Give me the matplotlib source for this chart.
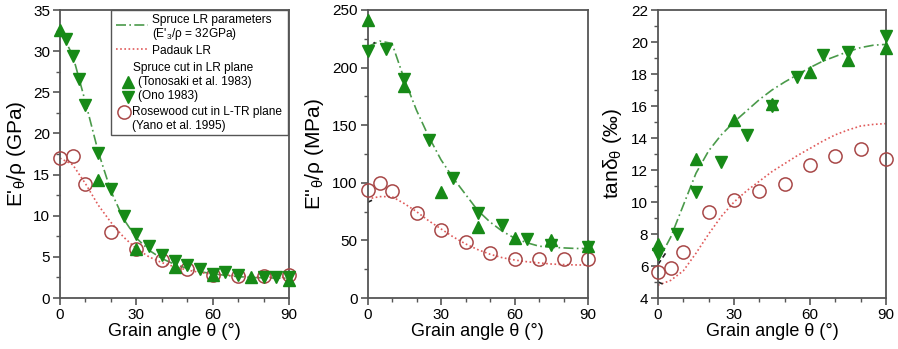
import matplotlib
matplotlib.use("Agg")
import matplotlib.pyplot as plt
from matplotlib.lines import Line2D
from matplotlib.patches import Rectangle
from matplotlib.ticker import MultipleLocator

plt.rcParams['font.family'] = ['Liberation Sans', 'DejaVu Sans']
plt.rcParams['mathtext.fontset'] = 'custom'
plt.rcParams['mathtext.rm'] = 'Liberation Sans'
plt.rcParams['mathtext.it'] = 'Liberation Sans:italic'

# ---- data ----
curve_angle = [0, 5, 10, 15, 20, 25, 30, 35, 40, 45, 50, 55, 60, 65, 70, 75, 80, 85, 90]

# storage modulus E'/rho (GPa)
e1_spruce_curve = [32.5, 29.5, 23.8, 17.8, 13.0, 9.6, 7.3, 5.8, 4.8, 4.1, 3.6, 3.2, 2.95, 2.75, 2.6, 2.5, 2.45, 2.42, 2.4]
e1_padauk_curve = [17.0, 16.2, 13.9, 11.3, 9.2, 7.4, 6.0, 5.0, 4.3, 3.8, 3.4, 3.1, 2.9, 2.8, 2.7, 2.6, 2.55, 2.5, 2.5]

# loss modulus E''/rho (MPa)
e2_spruce_curve = [218, 223, 221, 190, 163, 140, 120, 104, 90, 76, 66, 58, 52, 48, 45, 44, 43.5, 43, 43]
e2_padauk_curve = [86, 88, 88, 82, 75, 67, 60, 53, 47, 42, 38, 35, 33, 31.5, 30.5, 29.5, 29, 28.7, 28.6]

# loss factor tan delta (permil)
td_spruce_curve = [6.3, 7.8, 9.8, 11.8, 13.2, 14.2, 15.0, 15.7, 16.4, 17.0, 17.5, 17.95, 18.4, 18.8, 19.1, 19.4, 19.65, 19.8, 19.85]
td_padauk_curve = [4.8, 5.1, 5.7, 6.8, 8.0, 9.1, 10.0, 10.7, 11.3, 11.9, 12.4, 12.9, 13.35, 13.8, 14.2, 14.5, 14.75, 14.85, 14.9]

# short black dashed pieces near 0 deg
black_angle = [0, 3]
e2_black_spruce = [216, 222]
e2_black_padauk = [83, 86]
td_black_spruce = [6.1, 6.8]
td_black_padauk = [5.0, 4.8]

# Tonosaki et al. 1983 (spruce, up triangles)
tono_angle = [0, 15, 30, 45, 60, 75, 90]
tono_e1 = [32.6, 14.4, 5.9, 3.8, 2.8, 2.6, 2.2]
tono_e2 = [241, 184, 92, 62, 52, 50, 45]
tono_td = [7.35, 12.7, 15.1, 16.1, 18.1, 18.9, 19.6]

# Ono 1983 (spruce, down triangles)
ono_e1_angle = [2.5, 5, 7.5, 10, 15, 20, 25, 30, 35, 40, 45, 50, 55, 60, 65, 70, 80, 85, 90]
ono_e1 = [31.5, 29.4, 26.6, 23.4, 17.6, 13.2, 10.0, 7.8, 6.3, 5.2, 4.5, 4.0, 3.5, 2.9, 3.1, 2.8, 2.6, 2.5, 2.6]
ono_angle = [0, 7.5, 15, 25, 35, 45, 55, 65, 75, 90]
ono_e2 = [214, 216, 190, 137, 104, 74, 63, 51, 46, 44]
ono_td = [6.75, 8.0, 10.65, 12.5, 14.2, 16.0, 17.8, 19.2, 19.4, 20.4]

# Yano et al. 1995 (rosewood, circles)
yano_angle = [0, 5, 10, 20, 30, 40, 50, 60, 70, 80, 90]
yano_e1 = [17.0, 17.2, 13.8, 8.0, 6.0, 4.6, 3.5, 2.8, 2.7, 2.7, 2.8]
yano_e2 = [94, 100, 93, 74, 59, 49, 39, 34, 34, 34, 34]
yano_td = [5.6, 5.9, 6.9, 9.4, 10.1, 10.7, 11.1, 12.3, 12.9, 13.3, 12.7]

# ---- styles ----
GREEN = '#178a17'
GREEN_LINE = '#4a9a4a'
RED_LINE = '#e05a5a'
CIRCLE = '#a84848'
SPINE = '#555555'

W, H = 898, 349
fig = plt.figure(figsize=(W / 100, H / 100), dpi=100)


def px_axes(left, right, top=10, bottom=298):
    return fig.add_axes([left / W, 1 - bottom / H, (right - left) / W, (bottom - top) / H])


def style(ax, ylim, ymajor, yminor, ylabel, label_x):
    ax.set_xlim(0, 90)
    ax.set_ylim(*ylim)
    ax.xaxis.set_major_locator(MultipleLocator(30))
    ax.xaxis.set_minor_locator(MultipleLocator(10))
    ax.yaxis.set_major_locator(MultipleLocator(ymajor))
    ax.yaxis.set_minor_locator(MultipleLocator(yminor))
    for s in ax.spines.values():
        s.set_color(SPINE)
        s.set_linewidth(1.3)
    ax.tick_params(which='both', direction='out', color=SPINE, labelsize=11,
                   top=False, right=False)
    ax.tick_params(which='major', length=5, width=1.2, pad=2)
    ax.tick_params(which='minor', length=3, width=1.0)
    ax.set_xlabel('Grain angle θ (°)', fontsize=13, labelpad=1)
    ax.set_ylabel(ylabel, fontsize=15)
    ax.yaxis.set_label_coords(label_x, 0.5)


def draw(ax, sp_curve, pd_curve, tono, ono_x, ono, yano):
    ax.plot(curve_angle, sp_curve, color=GREEN_LINE, lw=1.2, ls=(0, (6, 2, 1, 2)), zorder=2)
    ax.plot(curve_angle, pd_curve, color=RED_LINE, lw=1.2, ls=(0, (1, 1.5)), zorder=2)
    ax.plot(yano_angle, yano, 'o', ms=9.5, mfc='none', mec=CIRCLE, mew=1.1, clip_on=False, zorder=3)
    ax.plot(tono_angle, tono, '^', ms=8.5, color=GREEN, clip_on=False, zorder=4)
    ax.plot(ono_x, ono, 'v', ms=8.5, color=GREEN, clip_on=False, zorder=4)


ax1 = px_axes(60, 289)
draw(ax1, e1_spruce_curve, e1_padauk_curve, tono_e1, ono_e1_angle, ono_e1, yano_e1)
style(ax1, (0, 35), 5, 2.5, "E'$_{\\mathrm{θ}}$/ρ (GPa)", -0.14)

ax2 = px_axes(367.5, 588)
draw(ax2, e2_spruce_curve, e2_padauk_curve, tono_e2, ono_angle, ono_e2, yano_e2)
ax2.plot(black_angle, e2_black_spruce, color='#222222', lw=1.2, ls=(0, (3, 2)), zorder=2)
ax2.plot(black_angle, e2_black_padauk, color='#222222', lw=1.2, ls=(0, (3, 2)), zorder=2)
style(ax2, (0, 250), 50, 25, "E''$_{\\mathrm{θ}}$/ρ (MPa)", -0.19)

ax3 = px_axes(658, 886)
draw(ax3, td_spruce_curve, td_padauk_curve, tono_td, ono_angle, ono_td, yano_td)
ax3.plot(black_angle, td_black_spruce, color='#222222', lw=1.2, ls=(0, (3, 2)), zorder=2)
ax3.plot(black_angle, td_black_padauk, color='#222222', lw=1.2, ls=(0, (3, 2)), zorder=2)
style(ax3, (4, 22), 2, 1, "tanδ$_{\\mathrm{θ}}$ (‰)", -0.15)


# ---- hand-made legend in panel 1 (figure pixel coordinates) ----
def fx(px):
    return px / W


def fy(py):
    return 1 - py / H


fig.patches.append(Rectangle((fx(111), fy(135)), fx(288) - fx(111), fy(9.5) - fy(135),
                             transform=fig.transFigure, fill=True, facecolor='white',
                             edgecolor=SPINE, lw=1.0, zorder=5))
fig.lines.append(Line2D([fx(116), fx(148)], [fy(25), fy(25)], transform=fig.transFigure,
                        color=GREEN_LINE, lw=1.2, ls=(0, (6, 2, 1, 2)), zorder=6))
fig.lines.append(Line2D([fx(116), fx(148)], [fy(48.5), fy(48.5)], transform=fig.transFigure,
                        color=RED_LINE, lw=1.2, ls=(0, (1, 1.5)), zorder=6))
fig.lines.append(Line2D([fx(128)], [fy(81.5)], transform=fig.transFigure, marker='^',
                        ms=8.5, color=GREEN, ls='none', zorder=6))
fig.lines.append(Line2D([fx(128)], [fy(96.5)], transform=fig.transFigure, marker='v',
                        ms=8.5, color=GREEN, ls='none', zorder=6))
fig.lines.append(Line2D([fx(124)], [fy(111.5)], transform=fig.transFigure, marker='o',
                        ms=9.5, mfc='none', mec=CIRCLE, mew=1.1, ls='none', zorder=6))

legend_rows = [
    (152.5, 20.5, 'Spruce LR parameters'),
    (152.5, 34.5, "(E'$_{\\mathrm{3}}$/ρ = 32GPa)"),
    (152.5, 50.5, 'Padauk LR'),
    (133, 67.5, 'Spruce cut in LR plane'),
    (138, 81.5, '(Tonosaki et al. 1983)'),
    (138, 96.5, '(Ono 1983)'),
    (132, 111.5, 'Rosewood cut in L-TR plane'),
    (132, 125.5, '(Yano et al. 1995)'),
]
for x, y, s in legend_rows:
    fig.text(fx(x), fy(y), s, fontsize=8.6, ha='left', va='center', zorder=7)

fig.savefig('out.png', dpi=100)
